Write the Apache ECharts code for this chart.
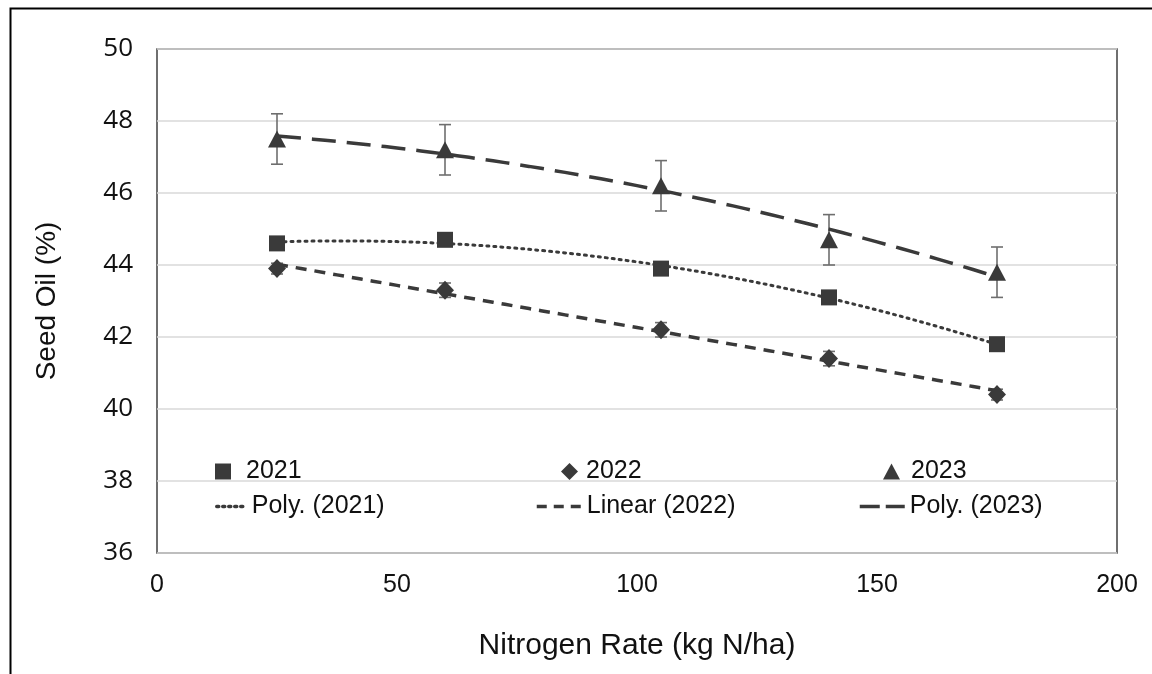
<!DOCTYPE html>
<html>
<head>
<meta charset="utf-8">
<script src="https://cdn.jsdelivr.net/npm/echarts@6/dist/echarts.min.js"></script>
<style>
  html, body { margin: 0; padding: 0; background: #fff; }
  #mainChart { width: 1152px; height: 674px; }
</style>
</head>
<body>
<div id="mainChart"></div>
<script>
// nitrogen rate (kg N/ha)
var rates = [25, 60, 105, 140, 175];
// seed oil (%) by year
var oil2021 = [44.6, 44.7, 43.9, 43.1, 41.8];
var oil2022 = [43.9, 43.3, 42.2, 41.4, 40.4];
var oil2023 = [47.5, 47.2, 46.2, 44.7, 43.8];
// error bar half-widths
var err2022 = [0.15, 0.2, 0.2, 0.2, 0.15];
var err2023 = [0.7, 0.7, 0.7, 0.7, 0.7];
var yTicks = [36, 38, 40, 42, 44, 46, 48, 50];

var dark = '#3a3a3a';
var txt = "'Liberation Sans', Arial, sans-serif";

// least squares fit, degree 1 or 2 (like excel trendlines)
function polyFit(xs, ys, deg) {
    var n = deg + 1, A = [], b = [];
    for (var i = 0; i < n; i++) {
        A.push([]);
        for (var j = 0; j < n; j++) {
            var s = 0;
            for (var k = 0; k < xs.length; k++) s += Math.pow(xs[k], i + j);
            A[i].push(s);
        }
        var t = 0;
        for (var k2 = 0; k2 < xs.length; k2++) t += ys[k2] * Math.pow(xs[k2], i);
        b.push(t);
    }
    // gauss elimination
    for (var c = 0; c < n; c++) {
        for (var r = c + 1; r < n; r++) {
            var f = A[r][c] / A[c][c];
            for (var cc = c; cc < n; cc++) A[r][cc] -= f * A[c][cc];
            b[r] -= f * b[c];
        }
    }
    var coef = new Array(n);
    for (var r2 = n - 1; r2 >= 0; r2--) {
        var s2 = b[r2];
        for (var c2 = r2 + 1; c2 < n; c2++) s2 -= A[r2][c2] * coef[c2];
        coef[r2] = s2 / A[r2][r2];
    }
    return coef;
}
function trendPoints(xs, ys, deg) {
    var coef = polyFit(xs, ys, deg), pts = [];
    var x0 = xs[0], x1 = xs[xs.length - 1];
    for (var x = x0; x <= x1 + 1e-9; x += 2.5) {
        var y = 0;
        for (var i = 0; i < coef.length; i++) y += coef[i] * Math.pow(x, i);
        pts.push([x, y]);
    }
    return pts;
}
function pairs(xs, ys) {
    return xs.map(function (x, i) { return [x, ys[i]]; });
}
function errData(xs, ys, es) {
    return xs.map(function (x, i) { return [x, ys[i] - es[i], ys[i] + es[i]]; });
}
function errorBars(name, data) {
    return {
        type: 'custom',
        name: name,
        z: 1,
        silent: true,
        data: data,
        renderItem: function (params, api) {
            var lo = api.coord([api.value(0), api.value(1)]);
            var hi = api.coord([api.value(0), api.value(2)]);
            var w = 6;
            var st = { stroke: '#6e6e6e', lineWidth: 1.6 };
            return {
                type: 'group',
                children: [
                    { type: 'line', shape: { x1: lo[0], y1: lo[1], x2: hi[0], y2: hi[1] }, style: st },
                    { type: 'line', shape: { x1: lo[0] - w, y1: lo[1], x2: lo[0] + w, y2: lo[1] }, style: st },
                    { type: 'line', shape: { x1: hi[0] - w, y1: hi[1], x2: hi[0] + w, y2: hi[1] }, style: st }
                ]
            };
        }
    };
}
function legendItem(name, left, top, iw, ih, gap, dash) {
    var lg = {
        data: [name],
        left: left,
        top: top,
        itemWidth: iw,
        itemHeight: ih,
        itemGap: 0,
        selectedMode: false,
        textStyle: { fontFamily: txt, fontSize: 25, color: '#111', padding: [0, 0, 0, gap] }
    };
    if (dash) {
        lg.itemStyle = { color: 'transparent', borderWidth: 0, opacity: 0 };
        lg.lineStyle = { width: 3.5, type: dash, color: dark };
    }
    return lg;
}

var myChart = echarts.init(document.getElementById('mainChart'));
var option = {
    animation: false,
    backgroundColor: '#fff',
    graphic: [{
        type: 'rect',
        left: 8, top: 6,
        shape: { width: 1300, height: 800 },
        style: { fill: 'none', stroke: '#000', lineWidth: 2 },
        silent: true
    }],
    grid: {
        left: 157, top: 49, right: 35, bottom: 121,
        show: true, borderColor: '#404040', borderWidth: 1.5
    },
    legend: [
        legendItem('2021', 210, 454, 16, 16, 10, null),
        legendItem('2022', 556, 454, 17, 17, 3, null),
        legendItem('2023', 878, 454, 17, 16, 6, null),
        legendItem('Poly. (2021)', 210, 489, 30, 14, 0, [2, 4]),
        legendItem('Linear (2022)', 530, 489, 45, 14, 0, [10, 7]),
        legendItem('Poly. (2023)', 853, 489, 45, 14, 0, [20, 6])
    ],
    xAxis: {
        type: 'value',
        min: 0, max: 200, interval: 50,
        axisLine: { show: false },
        axisTick: { show: false },
        splitLine: { show: false },
        axisLabel: { fontFamily: txt, fontSize: 25, color: '#111', margin: 20 },
        name: 'Nitrogen Rate (kg N/ha)',
        nameLocation: 'middle',
        nameGap: 78,
        nameTextStyle: { fontFamily: txt, fontSize: 30, color: '#111' }
    },
    yAxis: {
        type: 'value',
        min: yTicks[0], max: yTicks[yTicks.length - 1], interval: 2,
        axisLine: { show: false },
        axisTick: { show: false },
        splitLine: { show: true, lineStyle: { color: '#d9d9d9', width: 1.5 } },
        axisLabel: { fontFamily: "'Open Sans', sans-serif", fontSize: 26, color: '#111', margin: 24 },
        name: 'Seed Oil (%)',
        nameLocation: 'middle',
        nameGap: 96,
        nameTextStyle: { fontFamily: txt, fontSize: 28, color: '#111' }
    },
    series: [
        errorBars('err2022', errData(rates, oil2022, err2022)),
        errorBars('err2023', errData(rates, oil2023, err2023)),
        {
            name: 'Poly. (2021)', type: 'line', symbol: 'none', z: 2,
            data: trendPoints(rates, oil2021, 2),
            lineStyle: { color: dark, width: 3, type: [2, 5], cap: 'round' },
            itemStyle: { color: dark }
        },
        {
            name: 'Linear (2022)', type: 'line', symbol: 'none', z: 2,
            data: trendPoints(rates, oil2022, 1),
            lineStyle: { color: dark, width: 3.5, type: [11, 8] },
            itemStyle: { color: dark }
        },
        {
            name: 'Poly. (2023)', type: 'line', symbol: 'none', z: 2,
            data: trendPoints(rates, oil2023, 2),
            lineStyle: { color: dark, width: 3.5, type: [24, 11] },
            itemStyle: { color: dark }
        },
        {
            name: '2021', type: 'scatter', symbol: 'rect', symbolSize: 16, z: 3,
            data: pairs(rates, oil2021),
            itemStyle: { color: dark, opacity: 1 }
        },
        {
            name: '2022', type: 'scatter', symbol: 'diamond', symbolSize: [18, 19], z: 3,
            data: pairs(rates, oil2022),
            itemStyle: { color: dark, opacity: 1 }
        },
        {
            name: '2023', type: 'scatter', symbol: 'triangle', symbolSize: [18, 17], z: 3,
            data: pairs(rates, oil2023),
            itemStyle: { color: dark, opacity: 1 }
        }
    ]
};
myChart.setOption(option);
</script>
</body>
</html>
